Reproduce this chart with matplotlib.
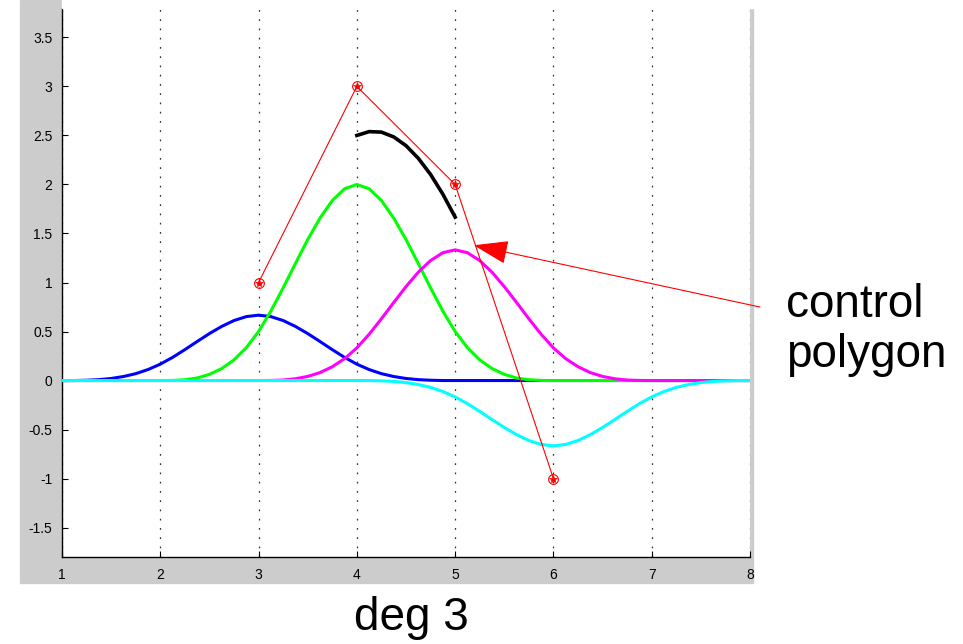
"""Cubic B-spline basis functions scaled by control coefficients, with the
control polygon and the curve piece on [4, 5]."""

import matplotlib

matplotlib.use("Agg")
import matplotlib.pyplot as plt
import numpy as np
from matplotlib.patches import FancyArrowPatch, Rectangle

# sample positions, 1/8 apart over the knot range 1..8
x_samples = np.arange(57) / 8 + 1

# scaled basis functions (coefficients 1, 3, 2, -1)
blue_vals = [
    0.000, 0.000, 0.003, 0.009, 0.021, 0.041, 0.070, 0.112, 0.167,
    0.236, 0.315, 0.398, 0.479, 0.552, 0.612, 0.652, 0.667,
    0.652, 0.612, 0.552, 0.479, 0.398, 0.315, 0.236, 0.167,
    0.112, 0.070, 0.041, 0.021, 0.009, 0.003, 0.000, 0.000,
] + [0.0] * 24
green_vals = [0.0] * 8 + [
    0.000, 0.001, 0.008, 0.026, 0.063, 0.122, 0.211, 0.335, 0.500,
    0.708, 0.945, 1.194, 1.438, 1.657, 1.836, 1.956, 2.000,
    1.956, 1.836, 1.657, 1.438, 1.194, 0.945, 0.708, 0.500,
    0.335, 0.211, 0.122, 0.063, 0.026, 0.008, 0.001, 0.000,
] + [0.0] * 16
magenta_vals = [0.0] * 16 + [
    0.000, 0.001, 0.005, 0.018, 0.042, 0.081, 0.141, 0.223, 0.333,
    0.472, 0.630, 0.796, 0.958, 1.105, 1.224, 1.304, 1.333,
    1.304, 1.224, 1.105, 0.958, 0.796, 0.630, 0.472, 0.333,
    0.223, 0.141, 0.081, 0.042, 0.018, 0.005, 0.001, 0.000,
] + [0.0] * 8
cyan_vals = [0.0] * 24 + [
    0.000, -0.000, -0.003, -0.009, -0.021, -0.041, -0.070, -0.112, -0.167,
    -0.236, -0.315, -0.398, -0.479, -0.552, -0.612, -0.652, -0.667,
    -0.652, -0.612, -0.552, -0.479, -0.398, -0.315, -0.236, -0.167,
    -0.112, -0.070, -0.041, -0.021, -0.009, -0.003, -0.000, 0.000,
]

# spline piece between knots 4 and 5
curve_x = [4.0, 4.125, 4.25, 4.375, 4.5, 4.625, 4.75, 4.875, 5.0]
curve_y = [2.500, 2.539, 2.534, 2.485, 2.396, 2.267, 2.102, 1.901, 1.667]

# control polygon
ctrl_x = [3, 4, 5, 6]
ctrl_y = [1, 3, 2, -1]

x_ticks = [1, 2, 3, 4, 5, 6, 7, 8]
y_ticks = [-1.5, -1, -0.5, 0, 0.5, 1, 1.5, 2, 2.5, 3, 3.5]
y_tick_labels = ["-1.5", "-1", "-0.5", "0", "0.5", "1", "1.5", "2", "2.5", "3", "3.5"]

W, H = 963, 644


def fx(px):
    return px / W


def fy(py):
    return 1 - py / H


fig = plt.figure(figsize=(W / 100, H / 100), dpi=100)
fig.patch.set_facecolor("white")

# grey MATLAB figure background peeking out round the axes
fig.add_artist(Rectangle((fx(20), fy(583)), fx(753) - fx(20), fy(0) - fy(583),
                         transform=fig.transFigure, color="#cccccc", zorder=0))
fig.add_artist(Rectangle((fx(62), fy(8)), fx(760) - fx(62), fy(0) - fy(8),
                         transform=fig.transFigure, color="white", zorder=0.5))

ax = fig.add_axes([fx(62), fy(557), fx(750) - fx(62), fy(8) - fy(557)])
ax.set_facecolor("white")

ax.plot(x_samples, blue_vals, color="#0000ff", lw=2.2, zorder=3)
ax.plot(x_samples, green_vals, color="#00ff00", lw=2.2, zorder=3)
ax.plot(x_samples, magenta_vals, color="#ff00ff", lw=2.2, zorder=3)
ax.plot(x_samples, cyan_vals, color="#00ffff", lw=2.2, zorder=3)
ax.plot(curve_x, curve_y, color="black", lw=2.6, zorder=4)

ax.plot(ctrl_x, ctrl_y, color="red", lw=0.8, zorder=5)
ax.plot(ctrl_x, ctrl_y, ls="none", marker="o", ms=7, mfc="none", mec="red", mew=0.8, zorder=5)
ax.plot(ctrl_x, ctrl_y, ls="none", marker="*", ms=6, mfc="red", mec="red", mew=0.5, zorder=5)

arrow = FancyArrowPatch((8.1, 0.75), (5.19, 1.38), arrowstyle="-|>,head_length=22,head_width=7.5",
                        mutation_scale=1, color="red", lw=0.8, shrinkA=0, shrinkB=0,
                        clip_on=False, zorder=6)
ax.add_patch(arrow)

ax.set_xlim(1, 8)
ax.set_ylim(-1.8, 3.8)
ax.set_xticks(x_ticks)
ax.set_xticklabels([str(t) for t in x_ticks])
ax.set_yticks(y_ticks)
ax.set_yticklabels(y_tick_labels)
ax.tick_params(direction="in", length=4, width=0.8, labelsize=10, colors="black",
               top=False, right=False)
ax.tick_params(axis="x", pad=8)
ax.tick_params(axis="y", pad=7)
for lbl in ax.get_xticklabels() + ax.get_yticklabels():
    lbl.set_family("Liberation Sans")
ax.spines["top"].set_visible(False)
ax.spines["right"].set_visible(False)
ax.spines["left"].set_linewidth(1.0)
ax.spines["bottom"].set_linewidth(1.0)
ax.grid(axis="x", color="0.2", linestyle=(0, (1.4, 6)), linewidth=0.9)
ax.set_axisbelow(True)

fig.text(fx(786), fy(317), "control", fontsize=33, family="Liberation Sans", va="baseline")
fig.text(fx(786), fy(367), "polygon", fontsize=33, family="Liberation Sans", va="baseline")
fig.text(fx(411), fy(630), "deg 3", fontsize=33, family="Liberation Sans", ha="center", va="baseline")

fig.savefig("out.png", dpi=100)
